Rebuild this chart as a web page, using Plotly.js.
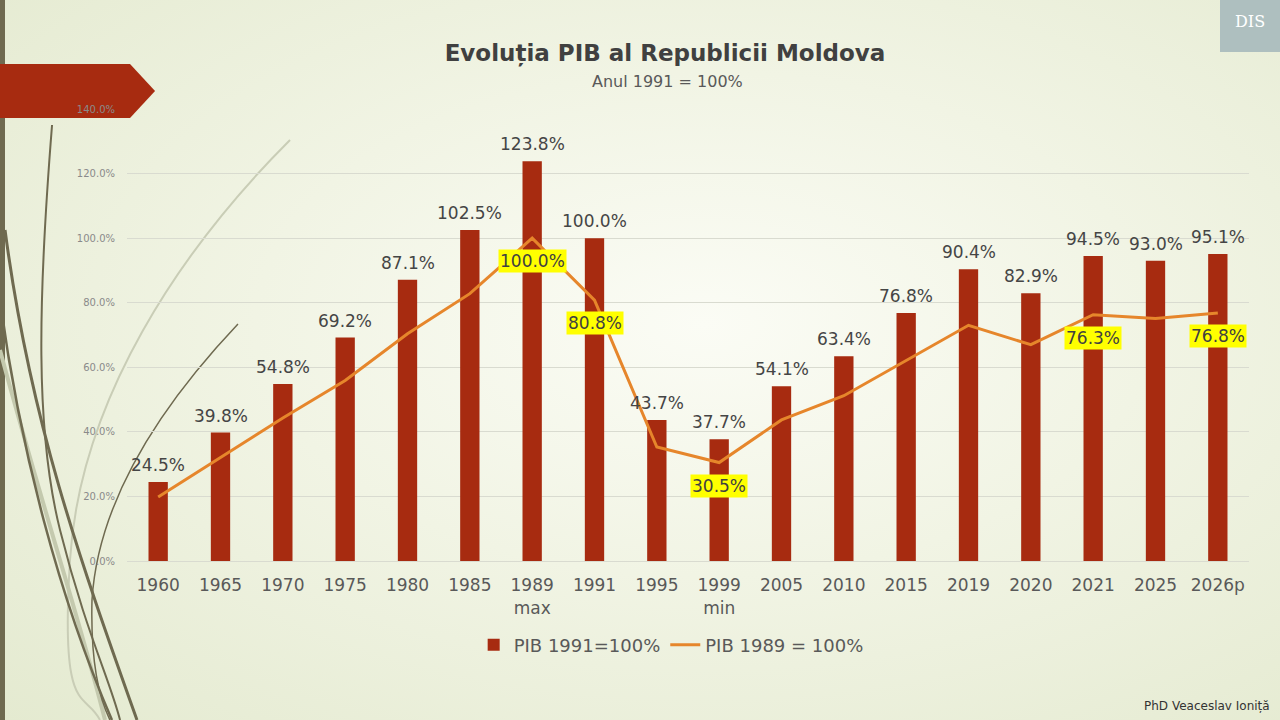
<!DOCTYPE html>
<html>
<head>
<meta charset="utf-8">
<script src="https://cdn.plot.ly/plotly-3.0.1.min.js"></script>
<style>
  html, body { margin: 0; padding: 0; }
  body {
    width: 1280px; height: 720px; overflow: hidden;
    background: radial-gradient(ellipse at 55% 45%, #fbfcf5 0%, #f1f4e4 45%, #e4ead0 100%);
  }
  #chart { width: 1280px; height: 720px; }
</style>
</head>
<body>
<div id="chart"></div>
<script>
// categories and values
var years = ['1960', '1965', '1970', '1975', '1980', '1985', '1989<br>max', '1991', '1995',
  '1999<br>min', '2005', '2010', '2015', '2019', '2020', '2021', '2025', '2026p'];
var pib1991 = [24.5, 39.8, 54.8, 69.2, 87.1, 102.5, 123.8, 100.0, 43.7,
  37.7, 54.1, 63.4, 76.8, 90.4, 82.9, 94.5, 93.0, 95.1];
var pib1989 = [19.8, 32.1, 44.3, 55.9, 70.4, 82.8, 100.0, 80.8, 35.3,
  30.5, 43.7, 51.2, 62.0, 73.0, 67.0, 76.3, 75.1, 76.8];
// points of the line that carry a yellow label
var marked = ['1989<br>max', '1991', '1999<br>min', '2021', '2026p'];

var yTicks = [0, 20, 40, 60, 80, 100, 120, 140];

var FONT = 'DejaVu Sans, Verdana, sans-serif';

// plot area in pixels, used only for the slide decoration
var L = 127, R = 1249, T = 109, B = 561;
function fx(x) { return (x - L) / (R - L); }
function fy(y) { return (B - y) / (B - T); }
function px(x, y) { return fx(x).toFixed(4) + ',' + fy(y).toFixed(4); }
function path(cmds) {
  return cmds.map(function (c) {
    return c[0] + ' ' + c.slice(1).map(function (p) { return px(p[0], p[1]); }).join(' ');
  }).join(' ');
}

var bars = {
  x: years,
  y: pib1991,
  type: 'bar',
  name: 'PIB 1991=100%',
  marker: { color: '#a72b10' },
  hoverinfo: 'x+y'
};

var line = {
  x: years,
  y: pib1989,
  type: 'scatter',
  mode: 'lines',
  name: 'PIB 1989 = 100%',
  line: { color: '#e6862b', width: 3 },
  hoverinfo: 'x+y'
};

var notes = [];
// value labels above the bars (category index, so numeric-looking names are not read as positions)
pib1991.forEach(function (v, i) {
  notes.push({
    x: i, y: v, xref: 'x', yref: 'y',
    text: v.toFixed(1) + '%',
    showarrow: false, yshift: 17,
    xanchor: 'center', yanchor: 'middle',
    font: { family: FONT, size: 17, color: '#454545' }
  });
});
years.forEach(function (c, i) {
  if (marked.indexOf(c) < 0) return;
  notes.push({
    x: i, y: pib1989[i], xref: 'x', yref: 'y',
    text: pib1989[i].toFixed(1) + '%',
    showarrow: false, yshift: -23,
    xanchor: 'center', yanchor: 'middle',
    bgcolor: '#ffff00', borderpad: 1,
    font: { family: FONT, size: 17, color: '#404040' }
  });
});

notes.push({
  xref: 'paper', yref: 'paper', x: fx(667), y: fy(82),
  xanchor: 'center', yanchor: 'middle',
  text: 'Anul 1991 = 100%', showarrow: false,
  font: { family: FONT, size: 16, color: '#595959' }
});
notes.push({
  xref: 'paper', yref: 'paper', x: fx(1272), y: fy(706),
  xanchor: 'right', yanchor: 'middle',
  text: 'PhD Veaceslav Ioniță', showarrow: false,
  font: { family: FONT, size: 12, color: '#333333' }
});
notes.push({
  xref: 'paper', yref: 'paper', x: fx(1250), y: fy(22),
  xanchor: 'center', yanchor: 'middle',
  text: 'DIS', showarrow: false,
  font: { family: 'DejaVu Serif, serif', size: 16, color: '#ffffff' }
});

var shapes = [
  // slide decoration
  { type: 'rect', xref: 'paper', yref: 'paper', layer: 'below',
    x0: fx(0), x1: fx(5), y0: fy(720), y1: fy(0),
    fillcolor: '#6f6a50', line: { width: 0 } },
  { type: 'path', xref: 'paper', yref: 'paper', layer: 'below',
    path: path([['M', [290, 140]], ['C', [180, 250], [80, 400], [70, 560]], ['S', [85, 690], [100, 720]]]),
    line: { color: '#c9cdb6', width: 2 } },
  { type: 'path', xref: 'paper', yref: 'paper', layer: 'below',
    path: path([['M', [0, 350]], ['C', [40, 500], [80, 620], [105, 720]]]),
    line: { color: '#c4c9ae', width: 4 } },
  { type: 'path', xref: 'paper', yref: 'paper', layer: 'below',
    path: path([['M', [52, 125]], ['C', [38, 300], [35, 430], [60, 530]], ['S', [110, 680], [120, 720]]]),
    line: { color: '#6f6a50', width: 2 } },
  { type: 'path', xref: 'paper', yref: 'paper', layer: 'below',
    path: path([['M', [5, 230]], ['C', [30, 420], [80, 560], [137, 720]]]),
    line: { color: '#6f6a50', width: 3 } },
  { type: 'path', xref: 'paper', yref: 'paper', layer: 'below',
    path: path([['M', [0, 300]], ['C', [20, 450], [60, 600], [112, 720]]]),
    line: { color: '#6f6a50', width: 2.5 } },
  { type: 'path', xref: 'paper', yref: 'paper', layer: 'below',
    path: path([['M', [238, 324]], ['Q', [100, 470], [92, 600]], ['Q', [90, 680], [110, 720]]]),
    line: { color: '#6f6a50', width: 1.5 } },
  { type: 'path', xref: 'paper', yref: 'paper', layer: 'below',
    path: path([['M', [0, 64]], ['L', [130, 64]], ['L', [155, 91]], ['L', [130, 118]], ['L', [0, 118]], ['Z']]),
    fillcolor: '#a72b10', line: { width: 0 } },
  { type: 'rect', xref: 'paper', yref: 'paper', layer: 'below',
    x0: fx(1220), x1: fx(1280), y0: fy(52), y1: fy(0),
    fillcolor: '#aebfbf', line: { width: 0 } }
];

var layout = {
  width: 1280,
  height: 720,
  paper_bgcolor: 'rgba(0,0,0,0)',
  plot_bgcolor: 'rgba(0,0,0,0)',
  margin: { l: L, r: 1280 - R, t: T, b: 720 - B },
  title: {
    text: '<b>Evoluția PIB al Republicii Moldova</b>',
    font: { family: FONT, size: 23, color: '#404040' },
    xref: 'paper', x: fx(665), xanchor: 'center',
    yref: 'container', y: 1 - 53 / 720, yanchor: 'middle'
  },
  bargap: 0.69,
  showlegend: true,
  legend: {
    orientation: 'h', x: 0.485, xanchor: 'center',
    y: fy(645), yanchor: 'middle',
    font: { family: FONT, size: 18, color: '#595959' },
    bgcolor: 'rgba(0,0,0,0)'
  },
  xaxis: {
    type: 'category',
    range: [-0.5, years.length - 0.5],
    tickfont: { family: FONT, size: 17, color: '#595959' },
    ticks: 'outside', ticklen: 9, tickcolor: 'rgba(0,0,0,0)',
    showgrid: false, showline: false, zeroline: false
  },
  yaxis: {
    range: [0, 140],
    tickvals: yTicks,
    ticktext: yTicks.map(function (v) { return v.toFixed(1) + '%'; }),
    tickfont: { family: FONT, size: 10, color: '#8a8a8a' },
    ticks: 'outside', ticklen: 9, tickcolor: 'rgba(0,0,0,0)',
    gridcolor: '#d9dbd0', gridwidth: 1,
    zeroline: true, zerolinecolor: '#d9dbd0', zerolinewidth: 1,
    showline: false
  },
  annotations: notes,
  shapes: shapes
};

Plotly.newPlot('chart', [bars, line], layout, { displayModeBar: false, staticPlot: true });
</script>
</body>
</html>
